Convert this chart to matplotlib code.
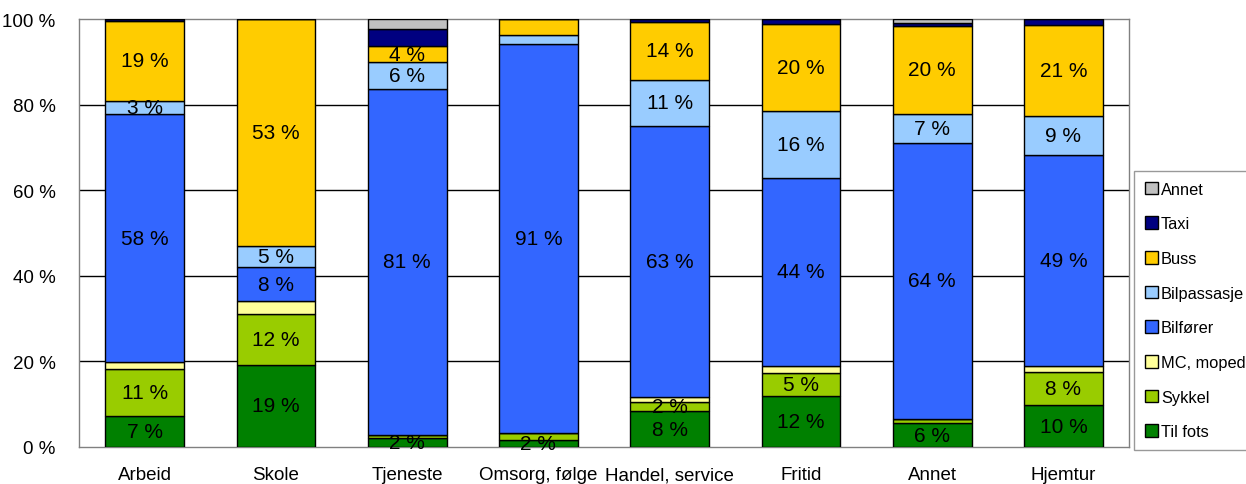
import numpy as np
import matplotlib
matplotlib.use("Agg")
import matplotlib.pyplot as plt
from matplotlib.patches import Patch

plt.rcParams['font.family'] = ['Liberation Sans', 'DejaVu Sans']

# -------------------------------
# Data (share of trips, %)
# -------------------------------
categories = ['Arbeid', 'Skole', 'Tjeneste', 'Omsorg, følge', 'Handel, service',
              'Fritid', 'Annet', 'Hjemtur']

til_fots    = [7.2, 19.2, 2.2, 1.7, 8.4, 12.0, 5.6, 9.7]
sykkel      = [11.0, 11.8, 0.6, 1.6, 2.2, 5.2, 0.9, 7.8]
mc_moped    = [1.7, 3.0, 0.1, 0.0, 1.0, 1.7, 0.1, 1.5]
bilforer    = [57.8, 8.0, 80.7, 90.9, 63.4, 44.0, 64.4, 49.2]
bilpassasje = [3.2, 4.9, 6.4, 2.1, 10.8, 15.7, 6.9, 9.2]
buss        = [18.6, 53.1, 3.6, 3.7, 13.6, 20.2, 20.4, 21.3]
taxi        = [0.5, 0.0, 4.1, 0.0, 0.6, 1.2, 0.8, 1.3]
annet       = [0.0, 0.0, 2.3, 0.0, 0.0, 0.0, 0.9, 0.0]

series_names = ['Til fots', 'Sykkel', 'MC, moped', 'Bilfører', 'Bilpassasje',
                'Buss', 'Taxi', 'Annet']
series_values = [til_fots, sykkel, mc_moped, bilforer, bilpassasje, buss, taxi, annet]
series_colors = ['#008000', '#99CC00', '#FFFF99', '#3366FF', '#99CCFF',
                 '#FFCC00', '#000080', '#C0C0C0']

# series that carry value labels, and single labels left out in the original
labeled_series = ['Til fots', 'Sykkel', 'Bilfører', 'Bilpassasje', 'Buss']
hidden_labels = [('Omsorg, følge', 'Sykkel'), ('Omsorg, følge', 'Bilpassasje'),
                 ('Omsorg, følge', 'Buss'), ('Tjeneste', 'Sykkel'),
                 ('Annet', 'Sykkel')]

yticks = [0, 20, 40, 60, 80, 100]

# -------------------------------
# Plot
# -------------------------------
fig = plt.figure(figsize=(12.46, 4.85), dpi=100)
ax = fig.add_axes([79 / 1246, 1 - 448 / 485, 1050 / 1246, 428 / 485])

x = np.arange(len(categories))
bottom = np.zeros(len(categories))
for name, vals, col in zip(series_names, series_values, series_colors):
    vals = np.array(vals)
    ax.bar(x, vals, width=0.6, bottom=bottom, color=col, edgecolor='black',
           linewidth=1.0, zorder=3)
    if name in labeled_series:
        for i, v in enumerate(vals):
            if v <= 0 or (categories[i], name) in hidden_labels:
                continue
            ax.text(x[i], bottom[i] + v / 2, f"{v:.0f} %", ha='center', va='center',
                    fontsize=15, color='black', zorder=4)
    bottom += vals

ax.set_xlim(-0.5, len(categories) - 0.5)
ax.set_ylim(0, 100)
ax.set_yticks(yticks)
ax.set_yticklabels([f"{t} %" for t in yticks], fontsize=13.5)
ax.set_xticks(x)
ax.set_xticklabels(categories, fontsize=13.5)
ax.tick_params(length=0)
ax.tick_params(axis='x', pad=14)
ax.tick_params(axis='y', pad=17)

for t in yticks[1:-1]:
    ax.axhline(t, color='black', linewidth=1.0, zorder=1)
for s in ax.spines.values():
    s.set_color('#808080')
    s.set_linewidth(1.0)

# Legend (top to bottom: Annet ... Til fots)
handles = [Patch(facecolor=c, edgecolor='black', linewidth=1.0)
           for c in series_colors[::-1]]
leg = fig.legend(handles, series_names[::-1], loc='upper left',
                 bbox_to_anchor=(1134 / 1246, 1 - 172 / 485), fontsize=11.8,
                 frameon=True, fancybox=False, edgecolor='#808080',
                 handlelength=0.8, handleheight=0.8, handletextpad=0.2,
                 labelspacing=1.2, borderpad=0.65, borderaxespad=0)
leg.get_frame().set_linewidth(1.0)

fig.savefig('out.png', dpi=100)
